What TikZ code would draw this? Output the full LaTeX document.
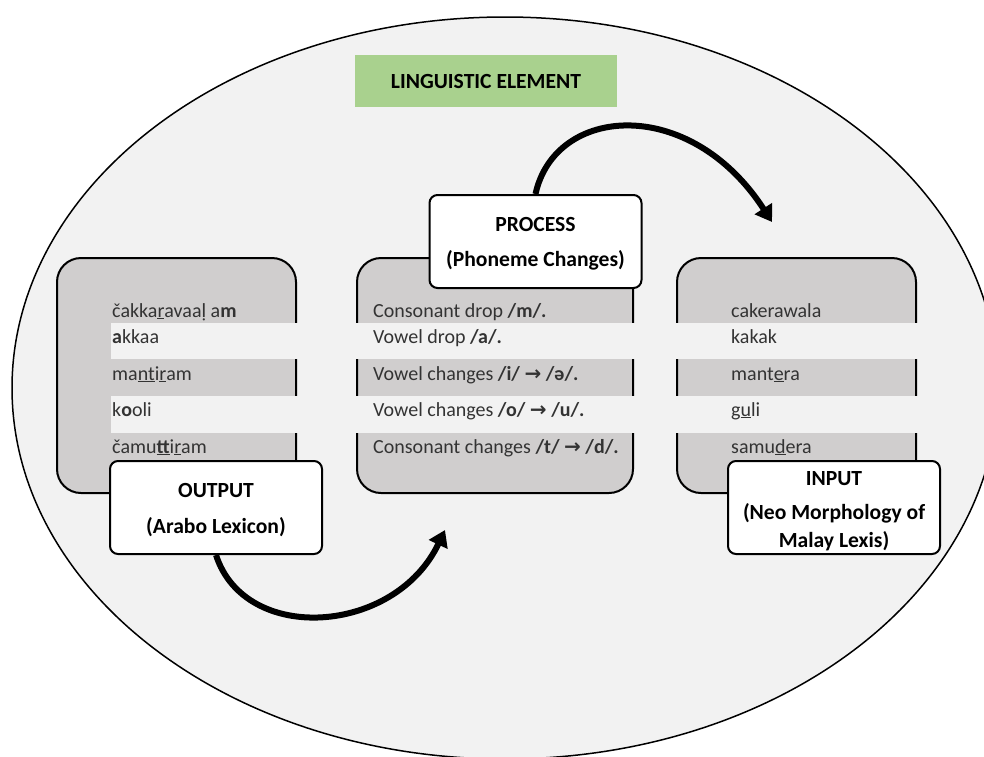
\documentclass[tikz,border=0pt]{standalone}
\usepackage{fontspec}
\setmainfont{Carlito}
\newfontfamily\symfont{DejaVu Sans}
\usetikzlibrary{arrows.meta}
\definecolor{ovalfill}{HTML}{F2F2F2}
\definecolor{boxfill}{HTML}{D0CECE}
\definecolor{rowlight}{HTML}{F2F2F2}
\definecolor{headgreen}{HTML}{A9D18E}
\definecolor{rowink}{HTML}{333333}
\newcommand{\ul}[1]{\underline{#1}}
\newcommand{\arr}{{\symfont\bfseries →}}
\begin{document}
\begin{tikzpicture}[x=1pt,y=-1pt,
  graybox/.style={draw=black, line width=2pt, fill=boxfill, rounded corners=24pt, inner sep=0pt},
  lblbox/.style={draw=black, line width=2pt, fill=white, rounded corners=8pt, inner sep=0pt, minimum width=212pt, minimum height=93pt},
  lightrow/.style={fill=rowlight},
  rowtext/.style={anchor=base west, inner sep=0pt, text=rowink, font=\fontsize{20}{24}\selectfont},
  lbltext/.style={anchor=base, inner sep=0pt, font=\fontsize{21.6}{26}\selectfont\bfseries},
  bigarrow/.style={line width=6pt, -{Triangle[length=16pt,width=20pt]}}
]
\useasboundingbox (0,0) rectangle (984,756);
\draw[fill=ovalfill, line width=1.5pt] (505,388) ellipse [x radius=493, y radius=371];

% heading
\node[fill=headgreen, minimum width=262pt, minimum height=52pt, inner sep=0pt,
      font=\fontsize{21.6}{26}\selectfont\bfseries] (head) at (486,81) {LINGUISTIC ELEMENT};

% gray boxes
\node[graybox, minimum width=239pt, minimum height=235pt] (outbox) at (176.5,375.5) {};
\node[graybox, minimum width=276pt, minimum height=235pt] (procbox) at (495,375.5) {};
\node[graybox, minimum width=239pt, minimum height=235pt] (inbox) at (796.5,375.5) {};

% light table rows
\fill[lightrow] (111,323) rectangle (300,359);
\fill[lightrow] (111,396) rectangle (300,433);
\fill[lightrow] (354,323) rectangle (636,359);
\fill[lightrow] (354,396) rectangle (636,433);
\fill[lightrow] (674,323) rectangle (919,359);
\fill[lightrow] (674,396) rectangle (919,433);

% left column words
\node[rowtext] (l1) at (112,317) {čakka\ul{r}avaaḷ a\textbf{m}};
\node[rowtext] (l2) at (112,343) {\textbf{a}kkaa};
\node[rowtext] (l3) at (112,380) {ma\ul{nt}i\ul{r}am};
\node[rowtext] (l4) at (112,416) {k\textbf{o}oli};
\node[rowtext] (l5) at (112,453) {čamu\ul{\textbf{tt}}i\ul{r}am};

% middle column processes
\node[rowtext] (m1) at (373,317) {Consonant drop \textbf{/m/.}};
\node[rowtext] (m2) at (373,343) {Vowel drop \textbf{/a/.}};
\node[rowtext] (m3) at (373,380) {Vowel changes \textbf{/i/ \arr{} /ə/.}};
\node[rowtext] (m4) at (373,416) {Vowel changes \textbf{/o/ \arr{} /u/.}};
\node[rowtext] (m5) at (373,453) {Consonant changes \textbf{/t/ \arr{} /d/.}};

% right column words
\node[rowtext] (r1) at (731,317) {cakerawala};
\node[rowtext] (r2) at (731,343) {kakak};
\node[rowtext] (r3) at (731,380) {mant\ul{e}ra};
\node[rowtext] (r4) at (731,416) {g\ul{u}li};
\node[rowtext] (r5) at (731,453) {samu\ul{d}era};

% label boxes
\node[lblbox] (proclbl) at (535.5,241.5) {};
\node[lbltext] (proct1) at (535.5,231) {PROCESS};
\node[lbltext] (proct2) at (535.5,266) {(Phoneme Changes)};

\node[lblbox] (outlbl) at (216,507.5) {};
\node[lbltext] (outt1) at (216,497) {OUTPUT};
\node[lbltext] (outt2) at (216,533) {(Arabo Lexicon)};

\node[lblbox] (inlbl) at (834,507.5) {};
\node[lbltext] (int1) at (834,485) {INPUT};
\node[lbltext] (int2) at (834,519) {(Neo Morphology of};
\node[lbltext] (int3) at (834,547) {Malay Lexis)};

% arrows
\coordinate (toptip) at (772,222);
\coordinate (bottip) at (445,530);
\draw[bigarrow] (proclbl.north) .. controls (555,105) and (690,95) .. (toptip);
\draw[bigarrow] (outlbl.south) .. controls (245,645) and (395,635) .. (bottip);
\end{tikzpicture}
\end{document}
